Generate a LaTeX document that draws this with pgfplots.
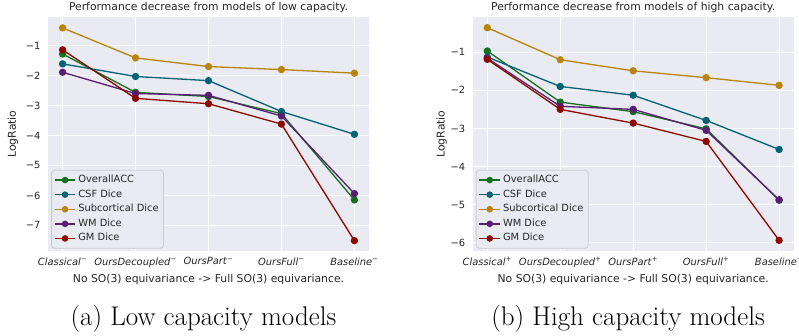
\documentclass[border=0pt]{standalone}
\usepackage{pgfplots}
\pgfplotsset{compat=1.18}
\usepackage{fontspec}
\setmainfont{DejaVu Sans}
\newfontfamily\lmfont{Latin Modern Roman}
\definecolor{bgc}{HTML}{EAEAF2}
\definecolor{txt}{HTML}{262626}
\definecolor{cgreen}{HTML}{12711C}
\definecolor{cteal}{HTML}{006374}
\definecolor{corange}{HTML}{B8850A}
\definecolor{cpurple}{HTML}{591E71}
\definecolor{cred}{HTML}{8C0800}
\begin{document}
\begin{tikzpicture}[x=1pt,y=1pt]
\useasboundingbox (0,0) rectangle (799,336);
\pgfplotsset{
 myaxis/.style={
  scale only axis, width=321pt, height=234pt, anchor=south west,
  axis background/.style={fill=bgc},
  axis line style={draw=none},
  grid=major, grid style={white, line width=1pt},
  major tick length=0pt,
  xmin=-0.2, xmax=4.2, xtick={0,1,2,3,4},
  tick label style={font=\fontsize{9.9}{12}\selectfont, text=txt},
  yticklabel style={xshift=-4pt},
  xticklabel style={yshift=-3pt},
  every axis title/.style={at={(axis description cs:0.5,1)}, anchor=south, yshift=4.5pt, inner sep=0pt, font=\fontsize{10.8}{13}\selectfont, text=txt},
  every axis x label/.style={at={(axis description cs:0.5,0)}, anchor=north, yshift=-23pt, inner sep=0pt, font=\fontsize{10.8}{13}\selectfont, text=txt},
  every axis y label/.style={anchor=center, rotate=90, inner sep=0pt, font=\fontsize{10.8}{13}\selectfont, text=txt},
  every axis plot/.append style={line width=1.3pt, mark=*, mark size=3pt, mark options={solid}},
  legend style={at={(axis description cs:0.01,0.01)}, anchor=south west, fill=bgc, draw=black!20, line width=0.8pt, rounded corners=3pt,
    font=\fontsize{9.9}{12}\selectfont, text=txt, row sep=0pt, inner sep=2.5pt,
    nodes={inner sep=2.3pt, text height=7.5pt, text depth=2.5pt}},
  legend cell align=left,
  legend image code/.code={\draw[mark repeat=2, mark phase=2, mark size=2.6pt] plot coordinates {(0pt,0pt) (10.3pt,0pt) (20.6pt,0pt)};},
 }
}
\begin{axis}[myaxis, at={(48pt,85pt)},
  ymin=-7.855, ymax=-0.045, ytick={-1,-2,-3,-4,-5,-6,-7},
  yticklabels={−1,−2,−3,−4,−5,−6,−7},
  xticklabels={\textit{Classical}\textsuperscript{−}, \textit{OursDecoupled}\textsuperscript{−}, \textit{OursPart}\textsuperscript{−}, \textit{OursFull}\textsuperscript{−}, \textit{Baseline}\textsuperscript{−}},
  title={Performance decrease from models of low capacity.},
  xlabel={No SO(3) equivariance -> Full SO(3) equivariance.},
  ylabel={LogRatio}, ylabel style={at={(axis description cs:-0.109,0.5)}},
]
\addplot[cgreen] coordinates {(0,-1.28) (1,-2.56) (2,-2.70) (3,-3.27) (4,-6.15)};
\addlegendentry{OverallACC}
\addplot[cteal] coordinates {(0,-1.61) (1,-2.03) (2,-2.17) (3,-3.20) (4,-3.96)};
\addlegendentry{CSF Dice}
\addplot[corange] coordinates {(0,-0.41) (1,-1.41) (2,-1.70) (3,-1.80) (4,-1.92)};
\addlegendentry{Subcortical Dice}
\addplot[cpurple] coordinates {(0,-1.89) (1,-2.60) (2,-2.66) (3,-3.35) (4,-5.94)};
\addlegendentry{WM Dice}
\addplot[cred] coordinates {(0,-1.14) (1,-2.76) (2,-2.94) (3,-3.62) (4,-7.51)};
\addlegendentry{GM Dice}
\end{axis}
\begin{axis}[myaxis, at={(472.7pt,85pt)},
  ymin=-6.21, ymax=-0.08, ytick={-1,-2,-3,-4,-5,-6},
  yticklabels={−1,−2,−3,−4,−5,−6},
  xticklabels={\textit{Classical}\textsuperscript{+}, \textit{OursDecoupled}\textsuperscript{+}, \textit{OursPart}\textsuperscript{+}, \textit{OursFull}\textsuperscript{+}, \textit{Baseline}\textsuperscript{+}},
  title={Performance decrease from models of high capacity.},
  xlabel={No SO(3) equivariance -> Full SO(3) equivariance.},
  ylabel={LogRatio}, ylabel style={at={(axis description cs:-0.097,0.5)}},
]
\addplot[cgreen] coordinates {(0,-0.97) (1,-2.31) (2,-2.56) (3,-3.01) (4,-4.88)};
\addlegendentry{OverallACC}
\addplot[cteal] coordinates {(0,-1.13) (1,-1.90) (2,-2.13) (3,-2.79) (4,-3.55)};
\addlegendentry{CSF Dice}
\addplot[corange] coordinates {(0,-0.36) (1,-1.20) (2,-1.49) (3,-1.67) (4,-1.87)};
\addlegendentry{Subcortical Dice}
\addplot[cpurple] coordinates {(0,-1.16) (1,-2.42) (2,-2.50) (3,-3.05) (4,-4.87)};
\addlegendentry{WM Dice}
\addplot[cred] coordinates {(0,-1.19) (1,-2.50) (2,-2.86) (3,-3.34) (4,-5.93)};
\addlegendentry{GM Dice}
\end{axis}
\node[anchor=base, font=\lmfont\fontsize{27}{32}\selectfont] at (203.4,10.5) {(a) Low capacity models};
\node[anchor=base, font=\lmfont\fontsize{27}{32}\selectfont] at (628,10.5) {(b) High capacity models};
\end{tikzpicture}
\end{document}
